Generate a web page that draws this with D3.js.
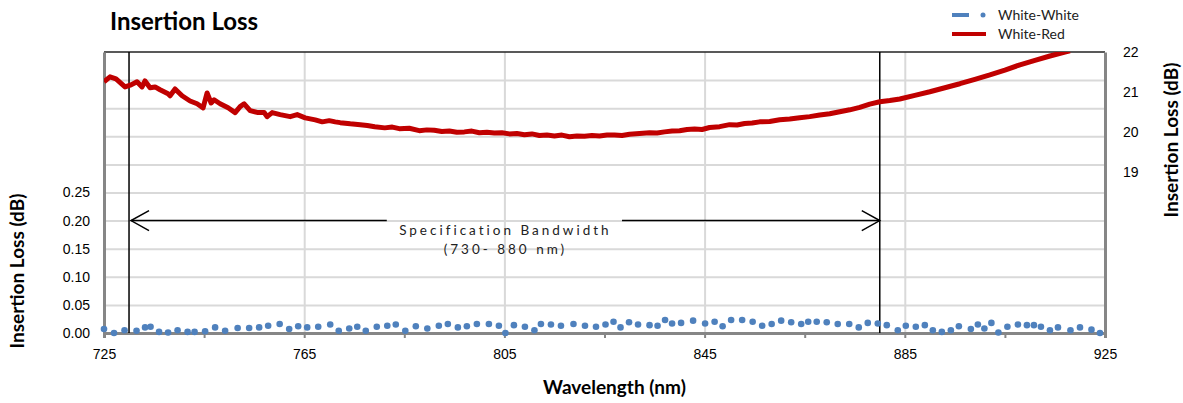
<!DOCTYPE html>
<html lang="en">
<head>
<meta charset="UTF-8">
<title>Insertion Loss</title>
<script src="https://d3js.org/d3.v7.min.js"></script>
<style>
    body { margin: 0; background: #fff; font-family: "Lato", "Open Sans", sans-serif; }
    .grid line { stroke: #d9d9d9; stroke-width: 2px; }
    .grid path { display: none; }
    .tick text { font-size: 14px; fill: #000; }
    .axis path, .axis line { stroke: #868686; }
    .title { font-size: 24px; font-weight: bold; }
    .axis-title { font-size: 19px; font-weight: bold; }
    .legend text { font-size: 14px; fill: #222; }
    .spec { font-size: 13.5px; letter-spacing: 3px; fill: #222; }
</style>
</head>
<body>
<script>
// White-White (left axis, dots)
const wwWave = [725.0,727.0,729.1,731.5,733.2,734.3,736.0,737.8,739.7,741.7,743.1,745.2,747.2,749.2,751.7,754.0,756.0,757.8,760.1,762.0,
    763.8,765.6,767.8,770.2,771.9,774.0,775.6,777.3,779.5,781.6,783.3,785.2,787.3,789.6,791.9,793.7,795.7,797.5,
    799.5,801.9,803.9,805.2,806.9,809.1,811.0,812.3,814.3,816.3,818.8,821.1,823.3,825.2,826.8,828.2,829.9,831.7,834.0,835.6,
    837.1,838.5,840.3,842.7,845.1,847.0,848.6,850.3,852.5,854.6,856.5,858.4,
    860.3,862.3,864.3,865.7,867.4,869.4,871.6,873.9,875.8,877.6,879.6,881.4,883.6,885.2,887.2,889.0,890.6,892.4,894.2,895.8,
    898.2,899.6,900.9,902.3,903.7,905.5,907.6,909.4,910.8,912.2,914.0,915.6,918.1,920.0,922.3,924.0];
const wwLoss = [0.007,0.000,0.005,0.004,0.010,0.011,0.002,0.001,0.005,0.002,0.002,0.003,0.010,0.004,0.009,0.009,0.010,0.013,0.016,0.007,
    0.012,0.010,0.011,0.015,0.004,0.008,0.011,0.004,0.011,0.013,0.015,0.004,0.012,0.008,0.013,0.016,0.010,0.012,
    0.016,0.016,0.013,0.000,0.014,0.011,0.005,0.016,0.015,0.013,0.016,0.013,0.011,0.015,0.020,0.010,0.019,0.015,0.014,0.013,
    0.023,0.017,0.018,0.022,0.017,0.020,0.012,0.023,0.023,0.020,0.013,0.016,
    0.022,0.019,0.016,0.020,0.020,0.019,0.016,0.016,0.010,0.018,0.017,0.014,0.005,0.013,0.011,0.014,0.005,0.002,0.005,0.012,
    0.007,0.015,0.008,0.018,0.001,0.011,0.015,0.014,0.014,0.011,0.005,0.010,0.005,0.010,0.006,0.000];

// White-Red (right axis, line)
const wrWave = [725.0,726.2,727.4,729.2,730.4,731.6,732.6,733.2,734.2,735.2,736.2,737.8,738.2,739.2,740.6,742.2,743.6,744.8,745.6,746.4,
    747.0,748.2,749.8,751.2,752.2,753.0,754.2,755.8,757.0,757.6,758.6,760.2,762.2,763.6,765.2,767.2,768.6,770.0,771.2,772.2,
    774.2,776.2,777.6,779.1,781.1,782.6,784,786,788,789.5,791,792.5,794,795.5,797,798.5,800,801.5,803,804.5,806,807.5,809,810.5,812,
    813.5,815,816.5,818,819.5,821,822.5,824,825.5,827,828.5,830,832,834,835.5,837,838.5,840,841.5,843,844.5,846,848,850,851.5,853,
    854.5,856,858,860,862,864,866,868,870,872,874,876,878,880,882,884,887,890,893,896,899,902,905,908,911,914,917,918];
const wrLoss = [21.26,21.38,21.33,21.13,21.18,21.26,21.13,21.28,21.11,21.13,21.06,20.96,20.91,21.08,20.91,20.78,20.71,20.61,20.98,20.73,
    20.81,20.71,20.61,20.49,20.64,20.71,20.54,20.49,20.49,20.39,20.49,20.44,20.39,20.44,20.36,20.31,20.26,20.29,20.26,20.24,
    20.21,20.19,20.17,20.14,20.11,20.13,20.09,20.10,20.04,20.06,20.05,20.02,20.03,20.00,20.01,20.03,19.99,20.00,19.98,19.99,19.96,19.97,19.94,19.96,19.92,
    19.93,19.91,19.93,19.89,19.91,19.90,19.92,19.91,19.93,19.93,19.92,19.95,19.97,19.99,19.98,20.01,20.03,20.04,20.07,20.08,20.07,20.12,20.14,20.19,20.18,20.22,
    20.23,20.26,20.27,20.31,20.33,20.36,20.39,20.43,20.46,20.51,20.56,20.62,20.70,20.76,20.79,20.83,20.92,21.01,21.11,21.21,21.32,
    21.43,21.55,21.68,21.79,21.90,22.00,22.03];

const xMajor = [725, 765, 805, 845, 885, 925];
const xMinor = [725, 745, 765, 785, 805, 825, 845, 865, 885, 905, 925];
const yLeftGrid = [0.05, 0.10, 0.15, 0.20, 0.25, 0.30, 0.35, 0.40, 0.45];
const yLeftLabels = [0, 0.05, 0.10, 0.15, 0.20, 0.25];
const yRightLabels = [19, 20, 21, 22];
const specBand = [730, 880];

const W = 1183, H = 403;
const m = {top: 52, left: 104, right: 78, bottom: 70};
const iw = W - m.left - m.right, ih = H - m.top - m.bottom;

const svg = d3.select("body").append("svg")
    .attr("width", W).attr("height", H);

const g = svg.append("g").attr("transform", `translate(${m.left},${m.top})`);

const x = d3.scaleLinear().domain([725, 925]).range([0, iw]);
const yL = d3.scaleLinear().domain([0, 0.5]).range([ih, 0]);
const yR = d3.scaleLinear().domain([15, 22]).range([ih, 0]);

// grid
g.append("g").attr("class", "grid")
    .call(d3.axisLeft(yL).tickValues(yLeftGrid).tickSize(-iw).tickFormat(""));
g.append("g").attr("class", "grid")
    .attr("transform", `translate(0,${ih})`)
    .call(d3.axisBottom(x).tickValues(xMajor.slice(1, -1)).tickSize(-ih).tickFormat(""));

// plot border top
g.append("line").attr("x1", 0).attr("x2", iw).attr("y1", 0).attr("y2", 0)
    .attr("stroke", "#222").attr("stroke-width", 1.5);

// axes
const xAxis = g.append("g").attr("class", "axis").attr("transform", `translate(0,${ih})`)
    .call(d3.axisBottom(x).tickValues(xMinor).tickSize(5).tickFormat(""));
xAxis.select(".domain").attr("stroke-width", 3);
xAxis.selectAll(".tick line").attr("stroke-width", 2);

const xLab = g.append("g").attr("transform", `translate(0,${ih})`)
    .call(d3.axisBottom(x).tickValues(xMajor).tickSize(0).tickPadding(16));
xLab.select(".domain").remove();

const yAxis = g.append("g").attr("class", "axis")
    .call(d3.axisLeft(yL).tickValues(yLeftLabels).tickSize(0).tickPadding(14)
        .tickFormat(d3.format(".2f")));
yAxis.select(".domain").attr("stroke-width", 3);

const yAxisR = g.append("g").attr("class", "axis").attr("transform", `translate(${iw},0)`)
    .call(d3.axisRight(yR).tickValues(yRightLabels).tickSize(0).tickPadding(18)
        .tickFormat(d3.format("d")));
yAxisR.select(".domain").attr("stroke-width", 3);

// spec bandwidth markers
g.selectAll(".spec-line").data(specBand).enter().append("line")
    .attr("class", "spec-line")
    .attr("x1", d => x(d)).attr("x2", d => x(d))
    .attr("y1", 0).attr("y2", ih)
    .attr("stroke", "#000").attr("stroke-width", 1.5);

const ay = yL(0.20);
const arrow = g.append("g").attr("stroke", "#000").attr("stroke-width", 1.5).attr("fill", "none");
const x0 = x(specBand[0]) + 2, x1 = x(specBand[1]);
arrow.append("path").attr("d", `M${x0},${ay}H${x(781.5)}`);
arrow.append("path").attr("d", `M${x(828.5)},${ay}H${x1}`);
arrow.append("path").attr("d", `M${x0 + 18},${ay - 10}L${x0},${ay}L${x0 + 18},${ay + 10}`);
arrow.append("path").attr("d", `M${x1 - 18},${ay - 10}L${x1},${ay}L${x1 - 18},${ay + 10}`);

const midX = x(805);
g.append("text").attr("class", "spec").attr("x", midX + 1).attr("y", ay + 14)
    .attr("text-anchor", "middle").text("Specification Bandwidth");
g.append("text").attr("class", "spec").attr("x", midX + 1).attr("y", ay + 33)
    .attr("text-anchor", "middle").text("(730- 880 nm)");

// clip
svg.append("defs").append("clipPath").attr("id", "plot")
    .append("rect").attr("x", 0).attr("y", 0).attr("width", iw).attr("height", ih);

// White-White dots
const ww = wwWave.map((w, i) => ({w, v: wwLoss[i]}));
g.append("g").selectAll("circle").data(ww).enter().append("circle")
    .attr("cx", d => x(d.w)).attr("cy", d => yL(d.v))
    .attr("r", 3.3).attr("fill", "#4f81bd");

// White-Red line
const wr = wrWave.map((w, i) => ({w, v: wrLoss[i]}));
g.append("path").datum(wr)
    .attr("clip-path", "url(#plot)")
    .attr("fill", "none").attr("stroke", "#c00000").attr("stroke-width", 5)
    .attr("stroke-linejoin", "round")
    .attr("d", d3.line().x(d => x(d.w)).y(d => yR(d.v)));

// titles
svg.append("text").attr("class", "title").attr("x", 110).attr("y", 30).text("Insertion Loss");
svg.append("text").attr("class", "axis-title").attr("x", m.left + x(827)).attr("y", 394)
    .attr("text-anchor", "middle").text("Wavelength (nm)");
svg.append("text").attr("class", "axis-title")
    .attr("transform", "translate(24,271) rotate(-90)")
    .attr("text-anchor", "middle").text("Insertion Loss (dB)");
svg.append("text").attr("class", "axis-title")
    .attr("transform", "translate(1178,140) rotate(-90)")
    .attr("text-anchor", "middle").text("Insertion Loss (dB)");

// legend
const lg = svg.append("g").attr("class", "legend");
lg.append("line").attr("x1", 952).attr("x2", 969).attr("y1", 15).attr("y2", 15)
    .attr("stroke", "#4f81bd").attr("stroke-width", 4);
lg.append("circle").attr("cx", 983).attr("cy", 15).attr("r", 2.5).attr("fill", "#4f81bd");
lg.append("text").attr("x", 998).attr("y", 20).text("White-White");
lg.append("line").attr("x1", 952).attr("x2", 986).attr("y1", 34).attr("y2", 34)
    .attr("stroke", "#c00000").attr("stroke-width", 4);
lg.append("text").attr("x", 998).attr("y", 39).text("White-Red");
</script>
</body>
</html>
